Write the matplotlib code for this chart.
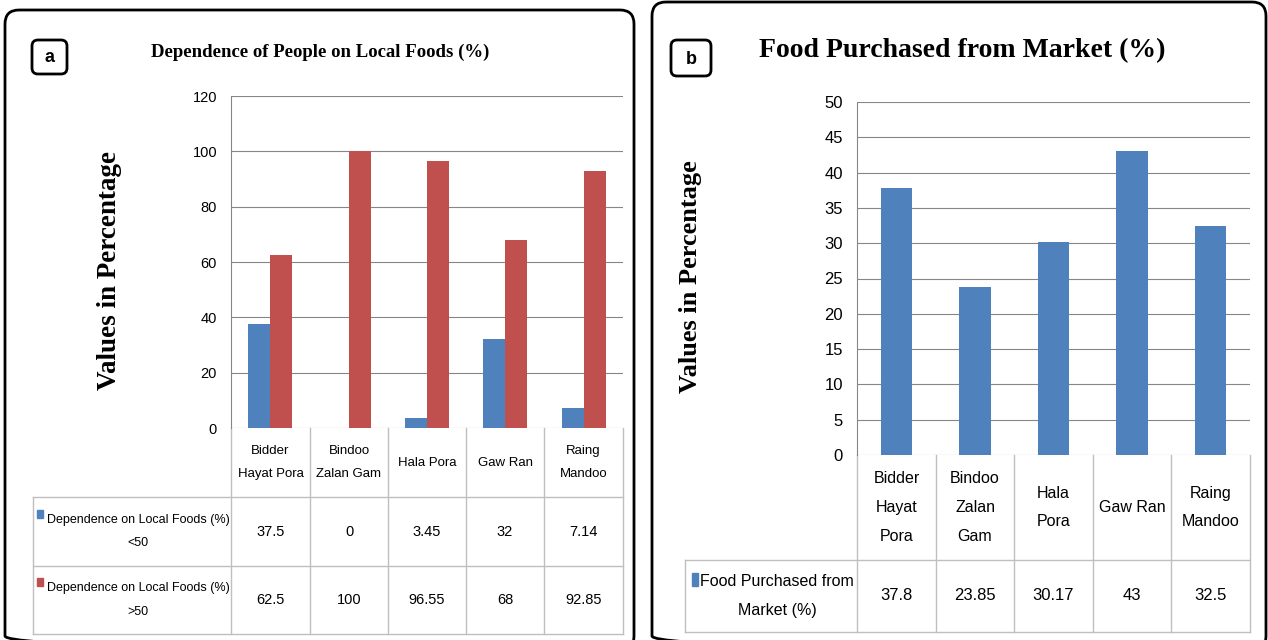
import matplotlib
matplotlib.use("Agg")
import matplotlib.pyplot as plt
from matplotlib.patches import FancyBboxPatch, Rectangle

# data
places_a = ["Bidder\nHayat Pora", "Bindoo\nZalan Gam", "Hala Pora", "Gaw Ran", "Raing\nMandoo"]
below50 = [37.5, 0, 3.45, 32, 7.14]
above50 = [62.5, 100, 96.55, 68, 92.85]
below50_txt = ["37.5", "0", "3.45", "32", "7.14"]
above50_txt = ["62.5", "100", "96.55", "68", "92.85"]

places_b = ["Bidder\nHayat\nPora", "Bindoo\nZalan\nGam", "Hala\nPora", "Gaw Ran", "Raing\nMandoo"]
purchased = [37.8, 23.85, 30.17, 43, 32.5]
purchased_txt = ["37.8", "23.85", "30.17", "43", "32.5"]

BLUE = "#4F81BD"
RED = "#C0504D"
GRID = "#868686"
TLINE = "#BFBFBF"
W, H = 1268, 640
sans = ["Liberation Sans", "DejaVu Sans"]
serif = ["Liberation Serif", "DejaVu Serif"]

fig = plt.figure(figsize=(W / 100, H / 100), dpi=100)

# background canvas in pixel coords for frames and tables
bg = fig.add_axes([0, 0, 1, 1])
bg.set_xlim(0, W)
bg.set_ylim(H, 0)
bg.axis("off")


def frame(x0, y0, x1, y1, lw, pad):
    bg.add_patch(FancyBboxPatch((x0, y0), x1 - x0, y1 - y0,
                                boxstyle="round,pad=0,rounding_size=%d" % pad,
                                fill=False, ec="black", lw=lw))


frame(5, 10, 634, 650, 2, 14)
frame(652, 2, 1266, 650, 2, 14)
frame(32, 40, 67, 74, 2, 6)
frame(671, 40, 711, 76, 2, 6)
bg.text(49.5, 58, "a", ha="center", va="center", fontsize=13, fontweight="bold", family=sans)
bg.text(691, 59, "b", ha="center", va="center", fontsize=13, fontweight="bold", family=sans)

bg.text(320, 52, "Dependence of People on Local Foods (%)", ha="center", va="center",
        fontsize=13.5, family=serif, fontweight="bold")
bg.text(962, 51, "Food Purchased from Market (%)", ha="center", va="center",
        fontsize=20, family=serif, fontweight="bold")
bg.text(110, 271, "Values in Percentage", rotation=90, ha="center", va="center",
        fontsize=19.5, family=serif, fontweight="bold")
bg.text(690, 277, "Values in Percentage", rotation=90, ha="center", va="center",
        fontsize=19, family=serif, fontweight="bold")


def table(cols, ytop, yhead, rows_y, xleft, cats, rows, fs_cat, fs_val, fs_lab, ls, mk):
    yb = rows_y[-1]
    for x in cols:
        bg.plot([x, x], [ytop, yb], color=TLINE, lw=1)
    bg.plot([xleft, xleft], [yhead, yb], color=TLINE, lw=1)
    for y in rows_y:
        bg.plot([xleft, cols[-1]], [y, y], color=TLINE, lw=1)
    for i, c in enumerate(cats):
        cx = (cols[i] + cols[i + 1]) / 2
        bg.text(cx, (ytop + yhead) / 2, c, ha="center", va="center",
                fontsize=fs_cat, family=sans, linespacing=ls)
    prev = yhead
    for (label, color, vals), y in zip(rows, rows_y[1:]):
        cy = (prev + y) / 2
        bg.add_patch(Rectangle((xleft + mk[0], cy + mk[1]), mk[2], mk[3], color=color))
        bg.text((xleft + cols[0]) / 2 + 6, cy, label, ha="center", va="center",
                fontsize=fs_lab, family=sans, linespacing=ls, multialignment="center")
        for i, v in enumerate(vals):
            bg.text((cols[i] + cols[i + 1]) / 2, cy, v, ha="center", va="center",
                    fontsize=fs_val, family=sans)
        prev = y


cols_a = [231, 310, 388, 466, 544, 623]
table(cols_a, 428, 497, [497, 566, 634], 33, places_a,
      [("Dependence on Local Foods (%)\n<50", BLUE, below50_txt),
       ("Dependence on Local Foods (%)\n>50", RED, above50_txt)],
      9.5, 10.5, 9, 2.3, (4, -22, 6, 8))

cols_b = [857, 936, 1014, 1093, 1171, 1250]
table(cols_b, 455, 560, [560, 632], 685, places_b,
      [("Food Purchased from\nMarket (%)", BLUE, purchased_txt)],
      11.5, 12, 11.5, 2.15, (7, -23, 6, 13))


def bar_axes(x0, x1, ytop, ybot):
    ax = fig.add_axes([x0 / W, 1 - ybot / H, (x1 - x0) / W, (ybot - ytop) / H])
    ax.set_facecolor("none")
    for s in ["top", "right", "bottom"]:
        ax.spines[s].set_visible(False)
    ax.spines["left"].set_color(GRID)
    ax.yaxis.grid(True, color=GRID, lw=0.8)
    ax.set_axisbelow(True)
    ax.set_xticks([])
    ax.tick_params(axis="y", length=0, pad=10)
    return ax


ax1 = bar_axes(231, 623, 96, 428)
xs = range(len(places_a))
ax1.bar([x - 0.14 for x in xs], below50, width=0.28, color=BLUE)
ax1.bar([x + 0.14 for x in xs], above50, width=0.28, color=RED)
ax1.set_xlim(-0.5, 4.5)
ax1.set_ylim(0, 120)
ax1.set_yticks(range(0, 121, 20))
for t in ax1.get_yticklabels():
    t.set_family(sans)
    t.set_fontsize(10.5)

ax2 = bar_axes(857, 1250, 102, 455)
ax2.bar(range(len(places_b)), purchased, width=0.4, color=BLUE)
ax2.set_xlim(-0.5, 4.5)
ax2.set_ylim(0, 50)
ax2.set_yticks(range(0, 51, 5))
for t in ax2.get_yticklabels():
    t.set_family(sans)
    t.set_fontsize(12)

fig.savefig("out.png", dpi=100)
